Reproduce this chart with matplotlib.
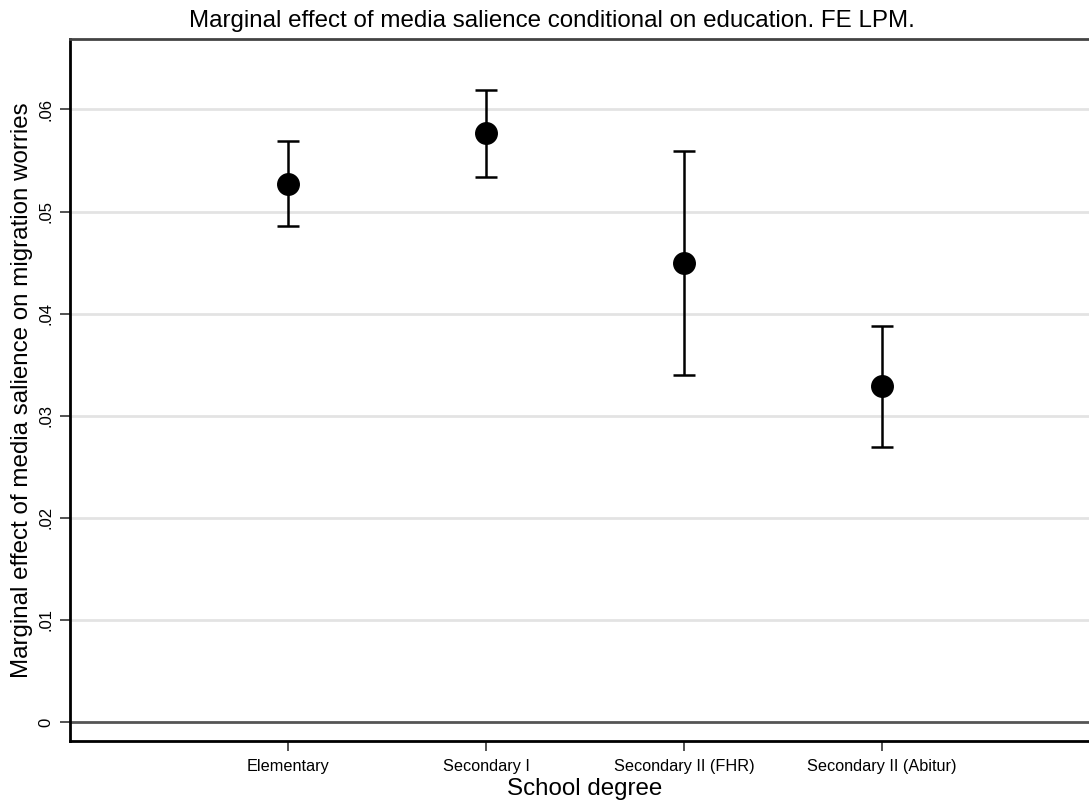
import matplotlib
matplotlib.use("Agg")
import matplotlib.pyplot as plt

plt.rcParams['font.family'] = ['Liberation Sans', 'DejaVu Sans']

categories = ["Elementary", "Secondary I", "Secondary II (FHR)", "Secondary II (Abitur)"]
estimates = [0.0527, 0.0577, 0.0450, 0.0329]
ci_low = [0.0486, 0.0534, 0.0340, 0.0269]
ci_high = [0.0569, 0.0619, 0.0559, 0.0388]
yticks = [0, 0.01, 0.02, 0.03, 0.04, 0.05, 0.06]
ytick_labels = ["0", ".01", ".02", ".03", ".04", ".05", ".06"]

fig = plt.figure(figsize=(10.89, 8.05), dpi=100)
ax = fig.add_axes([70/1089, 1-741/805, 1-70/1089+0.01, (741-39)/805])

x = list(range(1, len(categories)+1))
yerr = [[e - l for e, l in zip(estimates, ci_low)], [h - e for e, h in zip(estimates, ci_high)]]

for t in yticks[1:]:
    ax.axhline(t, color='#e3e3e3', lw=2.0, zorder=0)
ax.axhline(0, color='#555555', lw=2.0, zorder=1)

ax.errorbar(x, estimates, yerr=yerr, fmt='o', color='black', ecolor='black',
            markersize=15.5, elinewidth=1.8, capsize=8, capthick=1.8, zorder=3)

ax.set_xlim(-0.104, 5.10)
ax.set_ylim(-0.00186, 0.0669)
ax.set_xticks(x)
ax.set_xticklabels(categories, fontsize=11.7)
ax.set_yticks(yticks)
ax.set_yticklabels(ytick_labels, fontsize=12, rotation=90, va='center')
ax.tick_params(axis='both', length=7, width=1.2, color='#333333')
ax.tick_params(axis='x', pad=6)
ax.tick_params(axis='y', pad=5)

for side in ['left', 'bottom']:
    ax.spines[side].set_linewidth(2.0)
    ax.spines[side].set_color('black')
ax.spines['top'].set_linewidth(2.0)
ax.spines['top'].set_color('#444444')
ax.spines['right'].set_visible(False)

ax.set_xlabel("School degree", fontsize=17.4, labelpad=3)
ax.set_ylabel("Marginal effect of media salience on migration worries", fontsize=17.4, labelpad=4)
fig.text(552/1089, 1-21/805, "Marginal effect of media salience conditional on education. FE LPM.",
         ha='center', va='center', fontsize=17.4)

fig.savefig("out.png", dpi=100)
